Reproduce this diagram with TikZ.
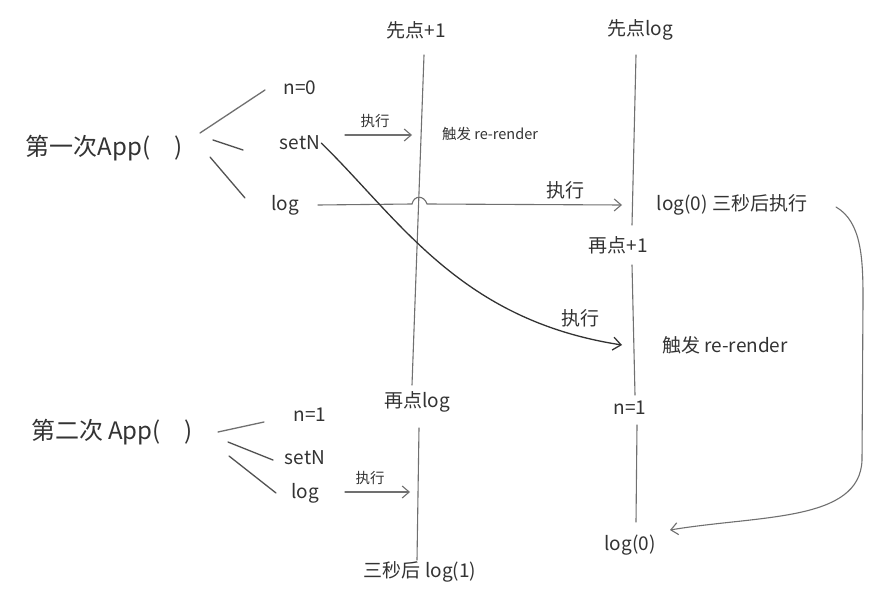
\documentclass[tikz,border=0pt]{standalone}
\usepackage{fontspec}
\setmainfont{Noto Sans CJK SC}
\usetikzlibrary{arrows.meta}
\definecolor{ink}{HTML}{333333}
\definecolor{pen}{HTML}{707070}
\tikzset{
  lbl/.style={text=ink, font=\fontsize{19}{22}\selectfont, inner sep=1pt},
  big/.style={text=ink, font=\fontsize{24}{27}\selectfont, inner sep=1pt},
  small/.style={text=ink, font=\fontsize{14.5}{17}\selectfont, inner sep=1pt},
  tline/.style={draw=pen, line width=1.1pt, line cap=round},
  stroke/.style={draw=ink!85, line width=1.3pt, line cap=round},
  arr/.style={draw=pen, line width=1.1pt, line cap=round, -{Straight Barb[length=7pt,width=12pt,line width=1.1pt]}},
  darr/.style={draw=ink, line width=1.3pt, line cap=round, -{Straight Barb[length=8pt,width=13pt,line width=1.3pt]}}
}
\begin{document}
\begin{tikzpicture}[x=1pt,y=-1pt]
\useasboundingbox[fill=white] (0,0) rectangle (896,596);

% headers
\node[lbl] (h1) at (416,30) {先点+1};
\node[lbl] (h2) at (640,30) {先点log};

% timelines
\coordinate (a1) at (424,55);  \coordinate (a2) at (412,385);
\coordinate (a3) at (419,428); \coordinate (a4) at (417,560);
\coordinate (b1) at (636,55);  \coordinate (b2) at (632,225);
\coordinate (b3) at (632,265); \coordinate (b4) at (635,395);
\coordinate (b5) at (637,425); \coordinate (b6) at (636,522);
\draw[tline] (a1) -- (a2);
\draw[tline] (a3) -- (a4);
\draw[tline] (b1) -- (b2);
\draw[tline] (b3) -- (b4);
\draw[tline] (b5) -- (b6);

% first App
\node[big] (app1) at (104,148) {第一次App(\hspace{1em})};
\node[lbl] (n0) at (300,88) {n=0};
\node[lbl] (setN1) at (300,143) {setN};
\node[lbl] (log1) at (285,205) {log};
\draw[stroke, draw=pen] (200,133) -- (265,90);
\draw[stroke] (213,140) -- (243,150);
\draw[stroke] (210,157) -- (245,198);

% setN -> re-render (first)
\coordinate (e1s) at (345,135); \coordinate (e1e) at (412,135);
\draw[arr] (e1s) -- (e1e);
\node[small] (x1) at (375,121) {执行};
\node[small] (r1) at (490,134) {触发 re-render};

% log -> log(0)
\coordinate (e2s) at (318,205); \coordinate (e2e) at (622,205);
\draw[arr] (e2s) -- (412,204) .. controls (414,195) and (424,195) .. (427,204) -- (e2e);
\node[lbl] (x2) at (565,190) {执行};
\node[lbl] (l0txt) at (732,205) {log(0) 三秒后执行};

% setN curve -> second re-render
\coordinate (e3e) at (622,345);
\draw[darr] (setN1.east) .. controls (400,220) and (460,320) .. (e3e);
\node[lbl] (x3) at (580,318) {执行};
\node[lbl] (p1) at (618,245) {再点+1};
\node[lbl] (r2) at (725,345) {触发 re-render};

% second click log
\node[lbl] (plog) at (417,402) {再点log};
\node[lbl] (n1r) at (630,408) {n=1};

% long curve -> log(0)
\coordinate (e4s) at (836,207); \coordinate (e4e) at (670,530);
\draw[arr] (e4s) .. controls (862,222) and (863,260) .. (863,300) -- (862,460)
  .. controls (860,522) and (760,515) .. (e4e);
\node[lbl] (l0) at (630,545) {log(0)};

% second App
\node[big] (app2) at (112,432) {第二次 App(\hspace{1em})};
\node[lbl] (n1) at (310,415) {n=1};
\node[lbl] (setN2) at (305,458) {setN};
\node[lbl] (log2) at (305,493) {log};
\draw[stroke, draw=pen] (218,432) -- (264,422);
\draw[stroke] (228,442) -- (273,460);
\draw[stroke] (229,456) -- (276,493);

\coordinate (e5s) at (345,492); \coordinate (e5e) at (410,492);
\draw[arr] (e5s) -- (e5e);
\node[small] (x5) at (370,478) {执行};
\node[lbl] (l1) at (420,572) {三秒后 log(1)};
\end{tikzpicture}
\end{document}
